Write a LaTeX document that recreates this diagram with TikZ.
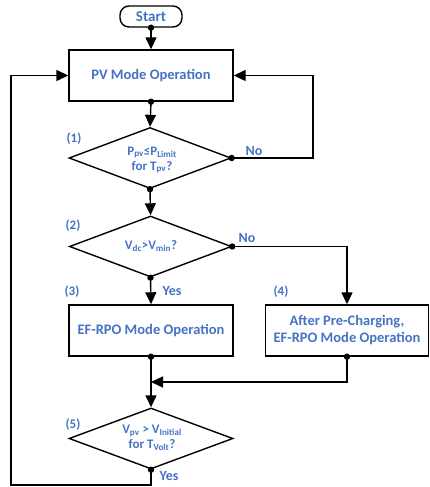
\documentclass[tikz,border=0pt]{standalone}
\usepackage{fontspec}
\setmainfont{Carlito}
\usetikzlibrary{shapes.geometric,arrows.meta}
\definecolor{txtblue}{RGB}{68,114,196}
\begin{document}
\begin{tikzpicture}[x=1pt,y=-1pt,line width=1.4pt,
  box/.style={draw,minimum width=164pt,minimum height=51pt,inner sep=0pt,font=\bfseries\fontsize{14.5}{17}\selectfont,text=txtblue,align=center},
  dec/.style={draw,diamond,minimum width=162pt,minimum height=61pt,inner sep=0pt},
  dectext/.style={font=\bfseries\fontsize{13}{15}\selectfont,text=txtblue,align=center},
  lbl/.style={font=\bfseries\fontsize{14}{16}\selectfont,text=txtblue},
  num/.style={font=\bfseries\fontsize{13}{15}\selectfont,text=txtblue},
  arr/.style={-{Triangle[length=12pt,width=11pt]}},
  ]
\useasboundingbox (0,0) rectangle (429,487);
\node[draw,rounded corners=9pt,minimum width=62pt,minimum height=21pt,inner sep=0pt,font=\bfseries\fontsize{15}{17}\selectfont,text=txtblue] (start) at (151,16.5) {Start};
\node[box] (pv) at (151,75.5) {PV Mode Operation};
\node[dec] (d1) at (150,158) {};
\node[dectext] (t1) at (152,160) {P\textsubscript{pv}≤P\textsubscript{Limit}\\for T\textsubscript{pv}?};
\node[dec] (d2) at (150.5,246.5) {};
\node[dectext] (t2) at (151,246) {V\textsubscript{dc}>V\textsubscript{min}?};
\node[box] (b3) at (151,330.5) {EF-RPO Mode Operation};
\node[box,minimum width=163pt] (b4) at (347,330.5) {After Pre-Charging,\\EF-RPO Mode Operation};
\node[dec,minimum width=164pt] (d5) at (151,438.5) {};
\node[dectext] (t5) at (152,438) {V\textsubscript{pv} > V\textsubscript{Initial}\\for T\textsubscript{Volt}?};
\coordinate (merge) at (151,382);
\coordinate (r1) at (313,158);
\coordinate (bl) at (11,485);
\node[num] (n1) at (74,139) {(1)};
\node[num] (n2) at (73,226) {(2)};
\node[num] (n3) at (72,292) {(3)};
\node[num] (n4) at (281,292) {(4)};
\node[num] (n5) at (73,425) {(5)};
\node[lbl] (no1) at (254,151) {No};
\node[lbl] (no2) at (247,238) {No};
\node[lbl] (yes1) at (172,291) {Yes};
\node[lbl] (yes2) at (169,476) {Yes};
\draw[arr] (start.south) -- (pv.north);
\draw[arr] (pv.south) -- (d1.north);
\draw[arr] (d1.east) -- (r1) |- (pv.east);
\draw[arr] (d1.south) -- (d2.north);
\draw[arr] (d2.east) -| (b4.north);
\draw[arr] (d2.south) -- (b3.north);
\draw[arr] (b3.south) -- (d5.north);
\draw[arr] (b4.south) |- (merge);
\draw[arr] (d5.south) -- (d5.south |- bl) -- (bl) |- (pv.west);
\foreach \p in {start.south,pv.south,d1.east,d1.south,d2.east,d2.south,b3.south,b4.south,d5.south}
  \fill (\p) circle (3.2pt);
\end{tikzpicture}
\end{document}
